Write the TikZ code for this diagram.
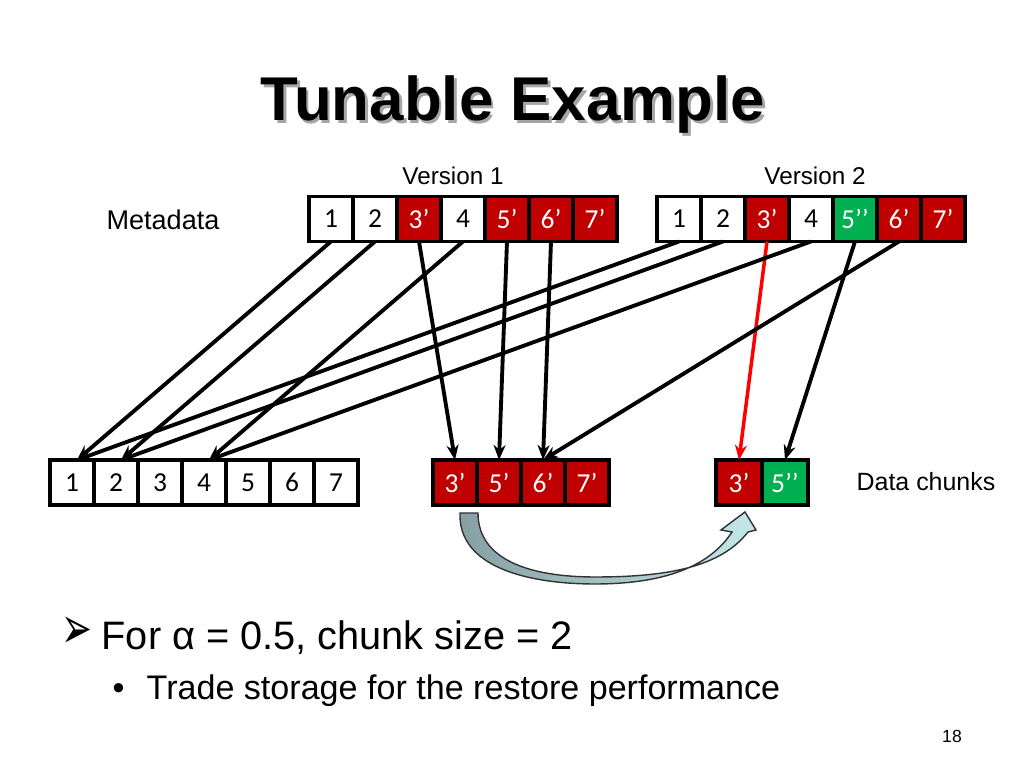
\documentclass[tikz,border=0pt]{standalone}
\usepackage{graphicx}
\usepackage{fontspec}
\setmainfont{Liberation Sans}
\newfontfamily\cellfont{Carlito}
\newfontfamily\symfont{DejaVu Sans}
\usetikzlibrary{positioning, arrows.meta, calc}
\definecolor{chunkred}{HTML}{C00000}
\definecolor{chunkgreen}{HTML}{00B050}
\definecolor{swapdark}{HTML}{869FA3}
\definecolor{swaplight}{HTML}{C4E8EA}

\begin{document}
\begin{tikzpicture}[node distance=0cm,
    cell/.style={draw, line width=1.1pt, fill=white, minimum width=0.44cm, minimum height=0.45cm, inner sep=0pt, outer sep=0pt, font=\cellfont\fontsize{7.8}{8}\selectfont},
    oldchunk/.style={cell, fill=chunkred, text=white},
    newchunk/.style={cell, fill=chunkgreen, text=white},
    link/.style={-{Stealth[length=0.15cm, width=0.12cm]}, line width=1.1pt},
    note/.style={inner sep=0pt, font=\fontsize{6.9}{8}\selectfont}]
    \useasboundingbox[fill=white] (0,0) rectangle (10.24,7.68);

    % title with its shadow
    \node[anchor=base, text=black!35, font=\bfseries\fontsize{17.6}{20}\selectfont] (title-shadow) at (5.155,6.445) {Tunable Example};
    \node[anchor=base, font=\bfseries\fontsize{17.6}{20}\selectfont] (title) at (5.13,6.47) {Tunable Example};

    % metadata of the two versions
    \node[note] (ver1) at (4.53,5.92) {Version 1};
    \node[note] (ver2) at (8.15,5.92) {Version 2};
    \node[note, font=\fontsize{7.7}{9}\selectfont] (meta) at (1.63,5.48) {Metadata};

    \node[cell] (v1-1) at (3.31,5.49) {1};
    \node[cell, right=of v1-1] (v1-2) {2};
    \node[oldchunk, right=of v1-2] (v1-3) {3’};
    \node[cell, right=of v1-3] (v1-4) {4};
    \node[oldchunk, right=of v1-4] (v1-5) {5’};
    \node[oldchunk, right=of v1-5] (v1-6) {6’};
    \node[oldchunk, right=of v1-6] (v1-7) {7’};

    \node[cell] (v2-1) at (6.79,5.49) {1};
    \node[cell, right=of v2-1] (v2-2) {2};
    \node[oldchunk, right=of v2-2] (v2-3) {3’};
    \node[cell, right=of v2-3] (v2-4) {4};
    \node[newchunk, right=of v2-4] (v2-5) {5’’};
    \node[oldchunk, right=of v2-5] (v2-6) {6’};
    \node[oldchunk, right=of v2-6] (v2-7) {7’};

    % data chunks
    \node[cell] (base1) at (0.72,2.855) {1};
    \node[cell, right=of base1] (base2) {2};
    \node[cell, right=of base2] (base3) {3};
    \node[cell, right=of base3] (base4) {4};
    \node[cell, right=of base4] (base5) {5};
    \node[cell, right=of base5] (base6) {6};
    \node[cell, right=of base6] (base7) {7};

    \node[oldchunk] (delta1) at (4.55,2.855) {3’};
    \node[oldchunk, right=of delta1] (delta2) {5’};
    \node[oldchunk, right=of delta2] (delta3) {6’};
    \node[oldchunk, right=of delta3] (delta4) {7’};

    \node[oldchunk, minimum width=0.46cm] (tune1) at (7.39,2.855) {3’};
    \node[newchunk, minimum width=0.46cm, right=of tune1] (tune2) {5’’};

    \node[note, font=\fontsize{7.1}{8}\selectfont] (chunks) at (9.26,2.86) {Data chunks};

    % references from metadata to chunks
    \draw[link] (v1-1.south) -- ([xshift=0.05cm] base1.north);
    \draw[link] (v1-2.south) -- ([xshift=0.05cm] base2.north);
    \draw[link] (v1-3.south) -- (delta1.north);
    \draw[link] (v1-4.south) -- ([xshift=0.05cm] base4.north);
    \draw[link] (v1-5.south) -- (delta2.north);
    \draw[link] (v1-6.south) -- (delta3.north);
    \draw[link] (v2-1.south) -- ([xshift=0.05cm] base1.north);
    \draw[link] (v2-2.south) -- ([xshift=0.05cm] base2.north);
    \draw[link, red, line width=1pt] (v2-3.south) -- (tune1.north);
    \draw[link] (v2-4.south) -- ([xshift=0.05cm] base4.north);
    \draw[link] (v2-5.south) -- (tune2.north);
    \draw[link] (v2-6.south) -- (delta3.north);

    % curved block arrow
    \draw[black!80, line width=0.4pt, left color=swapdark, right color=swaplight]
        (4.60,2.55) .. controls (4.58,2.00) and (5.30,1.84) .. (5.95,1.84)
        .. controls (6.65,1.84) and (7.10,2.02) .. (7.32,2.36)
        -- (7.21,2.38) -- (7.45,2.56) -- (7.56,2.38) -- (7.48,2.36)
        .. controls (7.20,2.00) and (6.65,1.91) .. (5.95,1.91)
        .. controls (5.30,1.91) and (4.78,2.08) .. (4.78,2.55) -- cycle;

    % bullets
    \node[anchor=base west, inner sep=0pt, font=\symfont\fontsize{10.5}{12}\selectfont] (arrow-mark) at (0.61,1.19) {\scalebox{1}[1.6]{➢}};
    \node[anchor=base west, inner sep=0pt, font=\fontsize{11.3}{13}\selectfont] (point) at (1.01,1.18) {For α = 0.5, chunk size = 2};
    \node[anchor=base west, inner sep=0pt, font=\fontsize{9.7}{11}\selectfont] (dot-mark) at (1.12,0.68) {•};
    \node[anchor=base west, inner sep=0pt, font=\fontsize{9.7}{11}\selectfont] (subpoint) at (1.46,0.68) {Trade storage for the restore performance};
    \node[inner sep=0pt, font=\fontsize{5}{6}\selectfont] (page) at (9.52,0.32) {18};
\end{tikzpicture}
\end{document}
